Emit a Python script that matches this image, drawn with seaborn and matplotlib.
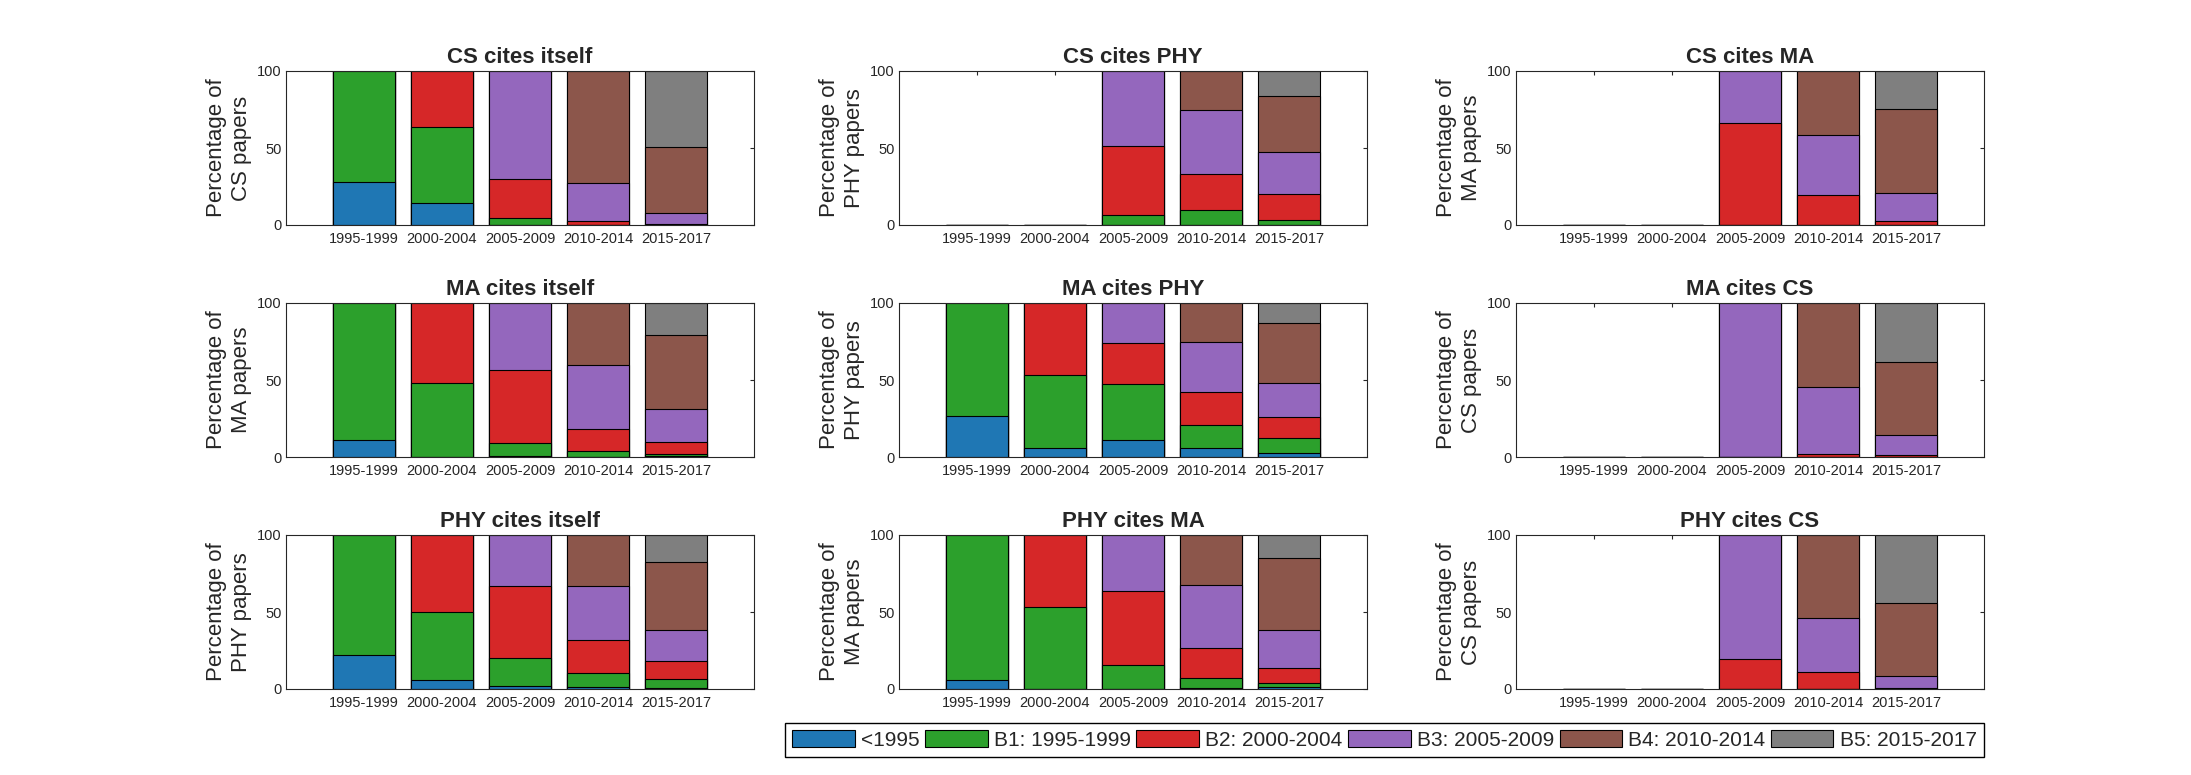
import numpy as np
import pandas as pd
import seaborn as sns
import matplotlib
matplotlib.use("Agg")
import matplotlib.pyplot as plt
from matplotlib.patches import Patch

periods = ["1995-1999", "2000-2004", "2005-2009", "2010-2014", "2015-2017"]
bands = ["<1995", "B1: 1995-1999", "B2: 2000-2004", "B3: 2005-2009",
         "B4: 2010-2014", "B5: 2015-2017"]
colors = ["#1f77b4", "#2ca02c", "#d62728", "#9467bd", "#8c564b", "#7f7f7f"]

# percentage of cited papers, one row per band (<1995, B1..B5), one column per period
cs_self = [[28.0, 14.2, 0, 0, 0],
           [72.0, 49.6, 4.4, 0, 0],
           [0, 36.2, 25.7, 2.4, 0.7],
           [0, 0, 69.9, 24.8, 6.9],
           [0, 0, 0, 72.8, 43.2],
           [0, 0, 0, 0, 49.2]]
cs_phy = [[0, 0, 0, 0, 0],
          [0, 0, 6.3, 9.7, 3.2],
          [0, 0, 45.1, 23.4, 16.9],
          [0, 0, 48.6, 41.9, 27.6],
          [0, 0, 0, 25.0, 36.3],
          [0, 0, 0, 0, 16.0]]
cs_ma = [[0, 0, 0, 0, 0],
         [0, 0, 0, 0, 0],
         [0, 0, 66.4, 19.4, 2.5],
         [0, 0, 33.6, 39.2, 18.5],
         [0, 0, 0, 41.4, 54.2],
         [0, 0, 0, 0, 24.8]]
ma_self = [[11.0, 0, 0.9, 0, 0.5],
           [89.0, 48.1, 8.2, 3.9, 1.7],
           [0, 51.9, 47.6, 14.3, 7.5],
           [0, 0, 43.3, 41.5, 21.5],
           [0, 0, 0, 40.3, 48.0],
           [0, 0, 0, 0, 20.8]]
ma_phy = [[26.8, 5.8, 11.0, 5.8, 2.8],
          [73.2, 47.4, 36.6, 15.0, 9.3],
          [0, 46.8, 26.4, 21.4, 13.9],
          [0, 0, 26.0, 32.7, 22.1],
          [0, 0, 0, 25.1, 38.9],
          [0, 0, 0, 0, 13.0]]
ma_cs = [[0, 0, 0, 0, 0],
         [0, 0, 0, 0, 0],
         [0, 0, 0, 2.2, 1.5],
         [0, 0, 100.0, 43.3, 12.5],
         [0, 0, 0, 54.5, 48.0],
         [0, 0, 0, 0, 38.0]]
phy_self = [[22.0, 5.8, 1.9, 1.1, 0.6],
            [77.7, 44.0, 18.1, 9.2, 5.9],
            [0.3, 50.2, 46.6, 21.4, 11.6],
            [0, 0, 33.4, 34.9, 20.0],
            [0, 0, 0, 33.4, 44.2],
            [0, 0, 0, 0, 17.7]]
phy_ma = [[5.8, 0, 0, 0.5, 1.0],
          [94.2, 53.1, 15.8, 6.6, 2.8],
          [0, 46.9, 47.9, 19.5, 10.0],
          [0, 0, 36.3, 40.8, 24.4],
          [0, 0, 0, 32.6, 46.9],
          [0, 0, 0, 0, 14.9]]
phy_cs = [[0, 0, 0, 0, 0],
          [0, 0, 0, 0, 0],
          [0, 0, 19.4, 11.0, 0.5],
          [0, 0, 80.6, 35.0, 8.0],
          [0, 0, 0, 54.0, 47.5],
          [0, 0, 0, 0, 44.0]]

panels = [("CS cites itself", "CS", cs_self), ("CS cites PHY", "PHY", cs_phy),
          ("CS cites MA", "MA", cs_ma),
          ("MA cites itself", "MA", ma_self), ("MA cites PHY", "PHY", ma_phy),
          ("MA cites CS", "CS", ma_cs),
          ("PHY cites itself", "PHY", phy_self), ("PHY cites MA", "MA", phy_ma),
          ("PHY cites CS", "CS", phy_cs)]

sns.set_style("white")
plt.rcParams["font.family"] = ["Liberation Sans", "DejaVu Sans"]
plt.rcParams["axes.edgecolor"] = "#262626"
plt.rcParams["axes.linewidth"] = 0.8

W, H = 2191, 775
fig = plt.figure(figsize=(W / 100, H / 100), dpi=100)
lefts = [286, 899, 1516]
tops = [71, 303, 535]
aw, ah = 468, 154

for i, (title, who, vals) in enumerate(panels):
    r, c = divmod(i, 3)
    ax = fig.add_axes([lefts[c] / W, 1 - (tops[r] + ah) / H, aw / W, ah / H])
    cum = np.cumsum(np.array(vals, dtype=float), axis=0)
    # stacked bars: draw cumulative totals from the top band down
    for k in range(len(bands) - 1, -1, -1):
        df = pd.DataFrame({"period": periods, "pct": cum[k]})
        sns.barplot(data=df, x="period", y="pct", order=periods, color=colors[k],
                    saturation=1, width=0.8, edgecolor="black", linewidth=0.8,
                    errorbar=None, ax=ax)
    ax.set_xlim(-1, 5)
    ax.set_ylim(0, 100)
    ax.set_yticks([0, 50, 100])
    ax.set_xlabel("")
    ax.set_ylabel(f"Percentage of\n{who} papers", fontsize=16, color="#262626",
                  labelpad=4)
    ax.set_title(title, fontsize=16, fontweight="bold", pad=6)
    ax.tick_params(direction="in", top=True, right=True, length=3, width=0.8,
                   labelsize=10.5, colors="#262626")
    ax.tick_params(axis="x", pad=5)
    ax.tick_params(axis="y", pad=3)

handles = [Patch(facecolor=col, edgecolor="black", linewidth=0.8) for col in colors]
fig.legend(handles, bands, ncol=6, loc="lower left", mode="expand",
           bbox_to_anchor=(785 / W, 1 - 757 / H, 1199 / W, 39 / H),
           fancybox=False, edgecolor="black", framealpha=1, fontsize=15,
           handlelength=3.0, handleheight=0.9, handletextpad=0.3,
           borderaxespad=0, borderpad=0.35, columnspacing=0.5)

fig.savefig("out.png", dpi=100)
